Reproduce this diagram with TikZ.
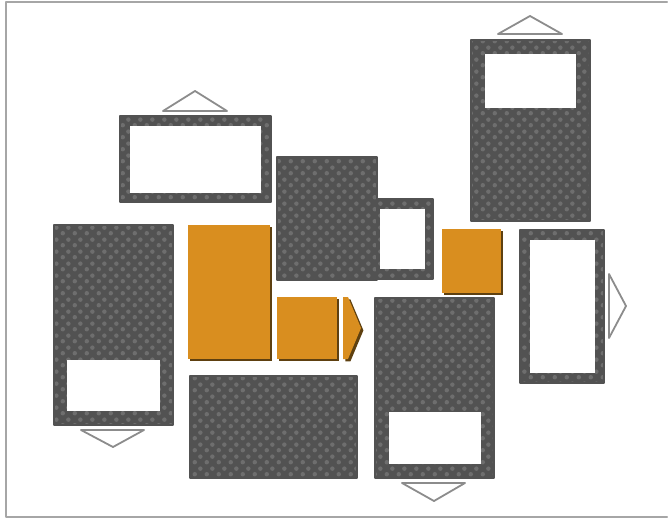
\documentclass[tikz,border=0pt]{standalone}
\usepackage{tikz}
\usetikzlibrary{patterns,shadows}
\definecolor{slate}{HTML}{525252}
\definecolor{slatedot}{HTML}{6E6E6E}
\definecolor{amber}{HTML}{D98E1F}
\definecolor{amberdark}{HTML}{5E4010}
\definecolor{edgegray}{HTML}{8C8C8C}
\pgfdeclarepatternformonly{slatedots}{\pgfpointorigin}{\pgfqpoint{6pt}{6pt}}{\pgfqpoint{6pt}{6pt}}{%
  \pgfpathcircle{\pgfqpoint{1.5pt}{1.5pt}}{1.2pt}%
  \pgfpathcircle{\pgfqpoint{4.5pt}{4.5pt}}{1.2pt}%
  \pgfusepath{fill}}
\tikzset{
  every picture/.style={line join=round, line cap=round},
  slab/.style={preaction={fill=slate}, pattern=slatedots, pattern color=slatedot, draw=slate, line width=0.8pt},
  window/.style={fill=white},
  amberbox/.style={fill=amber, drop shadow={shadow xshift=1.2pt, shadow yshift=-1.2pt, fill=amberdark, opacity=1}},
  hanger/.style={draw=edgegray, fill=white, line width=0.9pt},
}

\begin{document}
\begin{tikzpicture}[x=0.5pt,y=-0.5pt]
\useasboundingbox (0,0) rectangle (668,524);
\draw[draw=gray!70, line width=1.2pt] (667,2) -- (6,2) -- (6,517) -- (667,517);

% hollow frames
\path[slab] (120,116) rectangle (271,202);
\path[window] (130,126) rectangle (261,193);
\path[hanger] (163,111) -- (195,91) -- (227,111) -- cycle;

\path[slab] (372,199) rectangle (433,279);
\path[window] (380,209) rectangle (425,269);

\path[slab] (520,230) rectangle (604,383);
\path[window] (530,240) rectangle (595,373);
\path[hanger] (609,274) -- (626,306) -- (609,338) -- cycle;

% solid slabs
\path[slab] (277,157) rectangle (377,280);

\path[slab] (471,40) rectangle (590,221);
\path[window] (485,54) rectangle (576,108);
\path[hanger] (498,34) -- (530,16) -- (562,34) -- cycle;

\path[slab] (54,225) rectangle (173,425);
\path[window] (67,360) rectangle (160,411);
\path[hanger] (81,430) -- (113,447) -- (144,430) -- cycle;

\path[slab] (190,376) rectangle (357,478);

\path[slab] (375,298) rectangle (494,478);
\path[window] (389,412) rectangle (481,464);
\path[hanger] (402,483) -- (434,501) -- (465,483) -- cycle;

% orange blocks
\path[amberbox] (188,225) rectangle (270,359);
\path[amberbox] (277,297) rectangle (337,359);
\path[amberbox] (343,297) -- (348,297) -- (361,328) -- (348,359) -- (343,359) -- cycle;
\path[amberbox] (442,229) rectangle (501,293);
\end{tikzpicture}
\end{document}
